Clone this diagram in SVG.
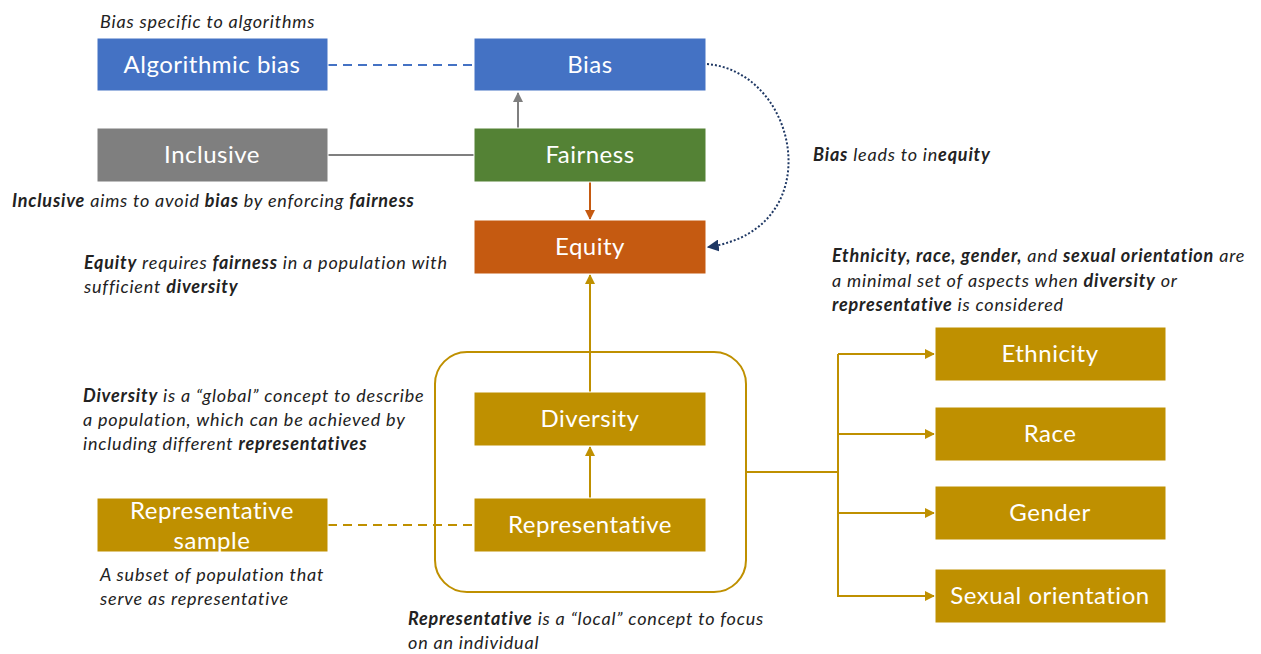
<svg xmlns="http://www.w3.org/2000/svg" width="1261" height="654" viewBox="0 0 1261 654">
<style>
.box{stroke:#fff;stroke-width:1}
.lbl{font-family:Lato,"Open Sans",sans-serif;font-size:24px;letter-spacing:0.5px;fill:#fff;text-anchor:middle}
.note{font-family:Lato,"Open Sans",sans-serif;font-size:18px;letter-spacing:0.8px;fill:#222;font-style:italic}
.b{font-weight:bold}
.blue{fill:#4472C4}.gray{fill:#7F7F7F}.green{fill:#548235}.orange{fill:#C55A11}.gold{fill:#BF9000}
</style>
<defs>
<marker id="ag" viewBox="0 0 10 10" refX="9" refY="5" markerWidth="5" markerHeight="5" orient="auto"><path d="M0,0L10,5L0,10z" fill="#7F7F7F"/></marker>
<marker id="ao" viewBox="0 0 10 10" refX="9" refY="5" markerWidth="5" markerHeight="5" orient="auto"><path d="M0,0L10,5L0,10z" fill="#C55A11"/></marker>
<marker id="ay" viewBox="0 0 10 10" refX="9" refY="5" markerWidth="5" markerHeight="5" orient="auto"><path d="M0,0L10,5L0,10z" fill="#BF9000"/></marker>
<marker id="an" viewBox="0 0 10 10" refX="9" refY="5" markerWidth="6" markerHeight="6" orient="auto"><path d="M0,0L10,5L0,10z" fill="#1F3864"/></marker>
</defs>
<rect width="1261" height="654" fill="#fff"/>
<g id="connectors" fill="none">
<line x1="328" y1="65" x2="474" y2="65" stroke="#4472C4" stroke-width="2" stroke-dasharray="9,6"/>
<line x1="518" y1="128" x2="518" y2="93" stroke="#7F7F7F" stroke-width="2" marker-end="url(#ag)"/>
<line x1="328" y1="155" x2="474" y2="155" stroke="#7F7F7F" stroke-width="2"/>
<line x1="590" y1="182" x2="590" y2="219" stroke="#C55A11" stroke-width="2" marker-end="url(#ao)"/>
<path d="M707,64 C800,72 830,230 708,247" stroke="#1F3864" stroke-width="2" stroke-dasharray="2,2" marker-end="url(#an)"/>
<line x1="590" y1="392" x2="590" y2="275" stroke="#BF9000" stroke-width="2" marker-end="url(#ay)"/>
<line x1="590" y1="498" x2="590" y2="447" stroke="#BF9000" stroke-width="2" marker-end="url(#ay)"/>
<line x1="328" y1="525" x2="474" y2="525" stroke="#BF9000" stroke-width="2" stroke-dasharray="9,6"/>
<rect x="435" y="352" width="311" height="240" rx="32" stroke="#BF9000" stroke-width="2"/>
<path d="M746,472 H838 M838,354 V597" stroke="#BF9000" stroke-width="2"/>
<line x1="838" y1="354" x2="934" y2="354" stroke="#BF9000" stroke-width="2" marker-end="url(#ay)"/>
<line x1="838" y1="434" x2="934" y2="434" stroke="#BF9000" stroke-width="2" marker-end="url(#ay)"/>
<line x1="838" y1="513" x2="934" y2="513" stroke="#BF9000" stroke-width="2" marker-end="url(#ay)"/>
<line x1="838" y1="596" x2="934" y2="596" stroke="#BF9000" stroke-width="2" marker-end="url(#ay)"/>
</g>
<g id="algorithmic-bias"><rect class="box blue" x="97" y="38" width="231" height="53"/><text class="lbl" x="212" y="73">Algorithmic bias</text></g>
<g id="bias"><rect class="box blue" x="474" y="38" width="232" height="53"/><text class="lbl" x="590" y="73">Bias</text></g>
<g id="inclusive"><rect class="box gray" x="97" y="128" width="231" height="54"/><text class="lbl" x="212" y="163">Inclusive</text></g>
<g id="fairness"><rect class="box green" x="474" y="128" width="232" height="54"/><text class="lbl" x="590" y="163">Fairness</text></g>
<g id="equity"><rect class="box orange" x="474" y="220" width="232" height="54"/><text class="lbl" x="590" y="255">Equity</text></g>
<g id="diversity"><rect class="box gold" x="474" y="392" width="232" height="54"/><text class="lbl" x="590" y="427">Diversity</text></g>
<g id="representative"><rect class="box gold" x="474" y="498" width="232" height="54"/><text class="lbl" x="590" y="533">Representative</text></g>
<g id="representative-sample"><rect class="box gold" x="97" y="498" width="231" height="54"/><text class="lbl" x="212" y="519">Representative</text><text class="lbl" x="212" y="549">sample</text></g>
<g id="ethnicity"><rect class="box gold" x="935" y="327" width="231" height="54"/><text class="lbl" x="1050" y="362">Ethnicity</text></g>
<g id="race"><rect class="box gold" x="935" y="407" width="231" height="54"/><text class="lbl" x="1050" y="442">Race</text></g>
<g id="gender"><rect class="box gold" x="935" y="486" width="231" height="54"/><text class="lbl" x="1050" y="521">Gender</text></g>
<g id="sexual-orientation"><rect class="box gold" x="935" y="569" width="231" height="54"/><text class="lbl" x="1050" y="604">Sexual orientation</text></g>
<g id="notes">
<text class="note" x="100" y="28">Bias specific to algorithms</text>
<text class="note" x="12" y="207"><tspan class="b">Inclusive</tspan> aims to avoid <tspan class="b">bias</tspan> by enforcing <tspan class="b">fairness</tspan></text>
<text class="note" x="813" y="161"><tspan class="b">Bias</tspan> leads to in<tspan class="b">equity</tspan></text>
<text class="note" x="84" y="269"><tspan class="b">Equity</tspan> requires <tspan class="b">fairness</tspan> in a population with</text>
<text class="note" x="84" y="293">sufficient <tspan class="b">diversity</tspan></text>
<text class="note" x="832" y="262"><tspan class="b">Ethnicity, race, gender,</tspan> and <tspan class="b">sexual orientation</tspan> are</text>
<text class="note" x="832" y="287">a minimal set of aspects when <tspan class="b">diversity</tspan> or</text>
<text class="note" x="832" y="311"><tspan class="b">representative</tspan> is considered</text>
<text class="note" x="83" y="402"><tspan class="b">Diversity</tspan> is a “global” concept to describe</text>
<text class="note" x="83" y="426">a population, which can be achieved by</text>
<text class="note" x="83" y="450">including different <tspan class="b">representatives</tspan></text>
<text class="note" x="100" y="581">A subset of population that</text>
<text class="note" x="100" y="605">serve as representative</text>
<text class="note" x="408" y="625"><tspan class="b">Representative</tspan> is a “local” concept to focus</text>
<text class="note" x="408" y="649">on an individual</text>
</g>
</svg>
